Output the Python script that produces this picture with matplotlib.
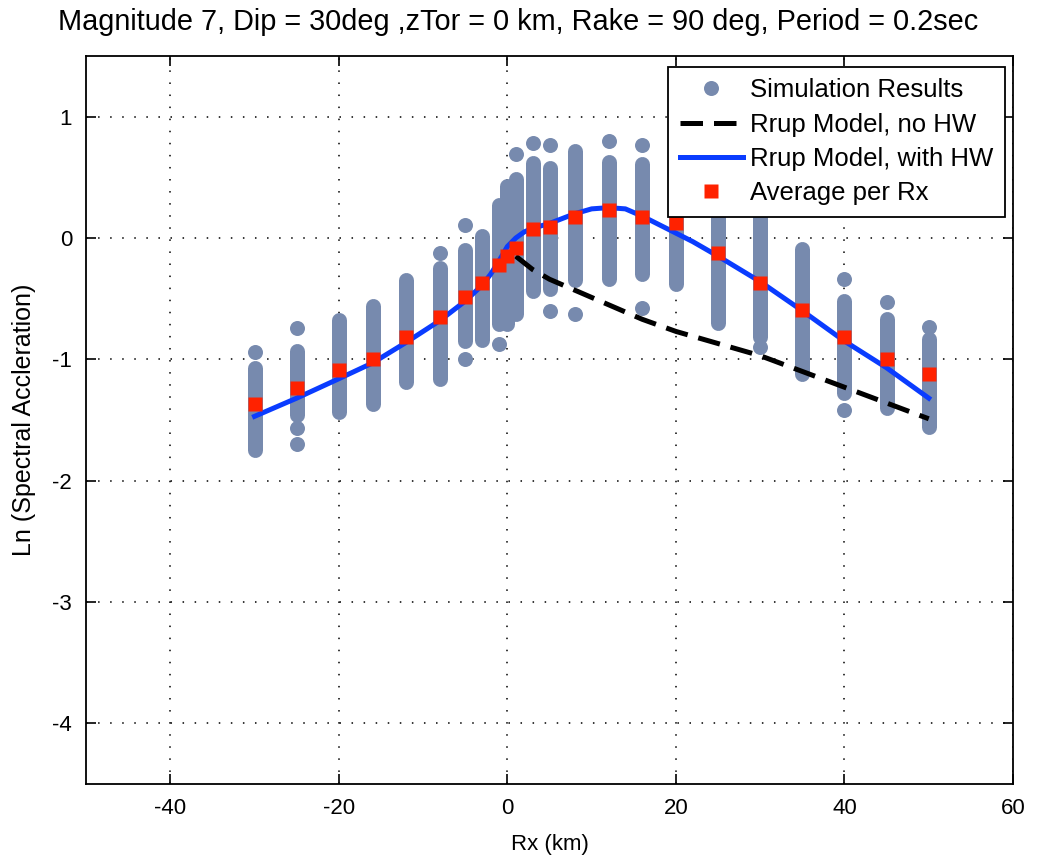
import numpy as np
import matplotlib
matplotlib.use('Agg')
import matplotlib.pyplot as plt
from matplotlib.lines import Line2D

plt.rcParams['font.family'] = ['Liberation Sans', 'DejaVu Sans']
plt.rcParams['axes.unicode_minus'] = False

# Rx locations of the simulation columns
rx = [-30, -25, -20, -16, -12, -8, -5, -3, -1, 0, 1, 3, 5, 8, 12, 16, 20, 25, 30, 35, 40, 45, 50]

# continuous spread of simulated ln(SA) at each Rx (top / bottom)
sim_top = [-1.07, -0.93, -0.68, -0.56, -0.35, -0.25, -0.10, 0.02, 0.27, 0.43, 0.49, 0.62, 0.58,
           0.72, 0.63, 0.61, 0.55, 0.45, 0.30, -0.09, -0.52, -0.67, -0.83]
sim_bot = [-1.75, -1.46, -1.43, -1.37, -1.19, -1.16, -0.85, -0.84, -0.71, -0.71, -0.63, -0.44, -0.42,
           -0.35, -0.34, -0.30, -0.38, -0.70, -0.82, -1.12, -1.28, -1.40, -1.56]

# isolated simulation points
out_x = [-30, -25, -25, -25, -8, -5, -5, -1, 1, 3, 5, 5, 8, 12, 16, 16, 30, 40, 40, 45, 50]
out_y = [-0.94, -0.74, -1.57, -1.70, -0.12, 0.11, -1.00, -0.87, 0.69, 0.78, 0.77, -0.60, -0.63,
         0.80, 0.77, -0.58, -0.90, -0.34, -1.42, -0.53, -0.73]

# average of simulations per Rx
avg = [-1.37, -1.24, -1.09, -1.00, -0.82, -0.65, -0.49, -0.37, -0.22, -0.15, -0.08, 0.07, 0.09,
       0.17, 0.23, 0.17, 0.12, -0.12, -0.37, -0.59, -0.82, -1.00, -1.12]

# Rrup model with hanging wall term
hw_x = [-30, -25, -20, -16, -12, -8, -5, -3, -2, -1, 0, 1, 2, 3, 5, 8, 10, 12, 14, 16, 18, 20,
        22, 25, 30, 35, 40, 45, 50]
hw_y = [-1.47, -1.32, -1.16, -1.03, -0.86, -0.68, -0.52, -0.39, -0.30, -0.19, -0.07, 0.0, 0.05,
        0.08, 0.12, 0.20, 0.24, 0.25, 0.24, 0.18, 0.11, 0.04, -0.03, -0.15, -0.36, -0.60, -0.85,
        -1.07, -1.32]

# Rrup model without hanging wall term
nohw_x = [1, 3, 5, 8, 12, 16, 20, 25, 30, 35, 40, 45, 50]
nohw_y = [-0.15, -0.26, -0.34, -0.43, -0.55, -0.67, -0.77, -0.87, -0.97, -1.10, -1.23, -1.36, -1.49]

sim_color = '#778aae'
avg_color = '#ff2200'
hw_color = '#0a3cff'
dot = 10.8  # marker diameter in points

fig = plt.figure(figsize=(10.37, 8.56), dpi=100)
ax = fig.add_axes([0.0829, 0.0841, 0.8940, 0.8505])

# simulation columns: thick round-capped segments plus single points
ax.vlines(rx, sim_bot, sim_top, colors=sim_color, linewidth=dot, capstyle='round', zorder=2)
ax.plot(out_x, out_y, 'o', color=sim_color, ms=dot, mec='none', zorder=2)

ax.plot(nohw_x, nohw_y, color='black', linewidth=3.6, dashes=(4.5, 2.2), zorder=3)
ax.plot(hw_x, hw_y, color=hw_color, linewidth=3.6, zorder=4)
ax.plot(rx, avg, 's', color=avg_color, ms=10.5, mec='none', zorder=5)

ax.set_xlim(-50, 60)
ax.set_ylim(-4.5, 1.5)
ax.set_xticks([-40, -20, 0, 20, 40, 60])
ax.set_yticks([-4, -3, -2, -1, 0, 1])
ax.grid(True, color='black', linestyle=(0, (1, 6.9)), linewidth=1.1)
ax.set_axisbelow(True)
ax.tick_params(direction='in', top=True, right=True, length=7, width=1.2, labelsize=16, pad=10)
for s in ax.spines.values():
    s.set_linewidth(1.3)

ax.set_xlabel('Rx (km)', fontsize=16, labelpad=11)
ax.set_ylabel('Ln (Spectral Accleration)', fontsize=18, labelpad=12)
fig.text(0.5, 1 - 22 / 856, 'Magnitude 7, Dip = 30deg ,zTor = 0 km, Rake = 90 deg, Period = 0.2sec',
         ha='center', va='center', fontsize=20.8)

handles = [
    Line2D([], [], linestyle='none', marker='o', color=sim_color, ms=dot, mec='none'),
    Line2D([], [], color='black', linewidth=3.6, dashes=(4.5, 2.2)),
    Line2D([], [], color=hw_color, linewidth=3.6),
    Line2D([], [], linestyle='none', marker='s', color=avg_color, ms=10.5, mec='none'),
]
labels = ['Simulation Results', 'Rrup Model, no HW', 'Rrup Model, with HW', 'Average per Rx']
leg = ax.legend(handles, labels, loc='upper right', bbox_to_anchor=(0.991, 0.985), borderaxespad=0,
                fontsize=18.5, fancybox=False, framealpha=1, edgecolor='black', handlelength=2.45,
                handletextpad=0.27, labelspacing=0.4, borderpad=0.45)
leg.get_frame().set_linewidth(1.3)

fig.savefig('out.png', dpi=100)
